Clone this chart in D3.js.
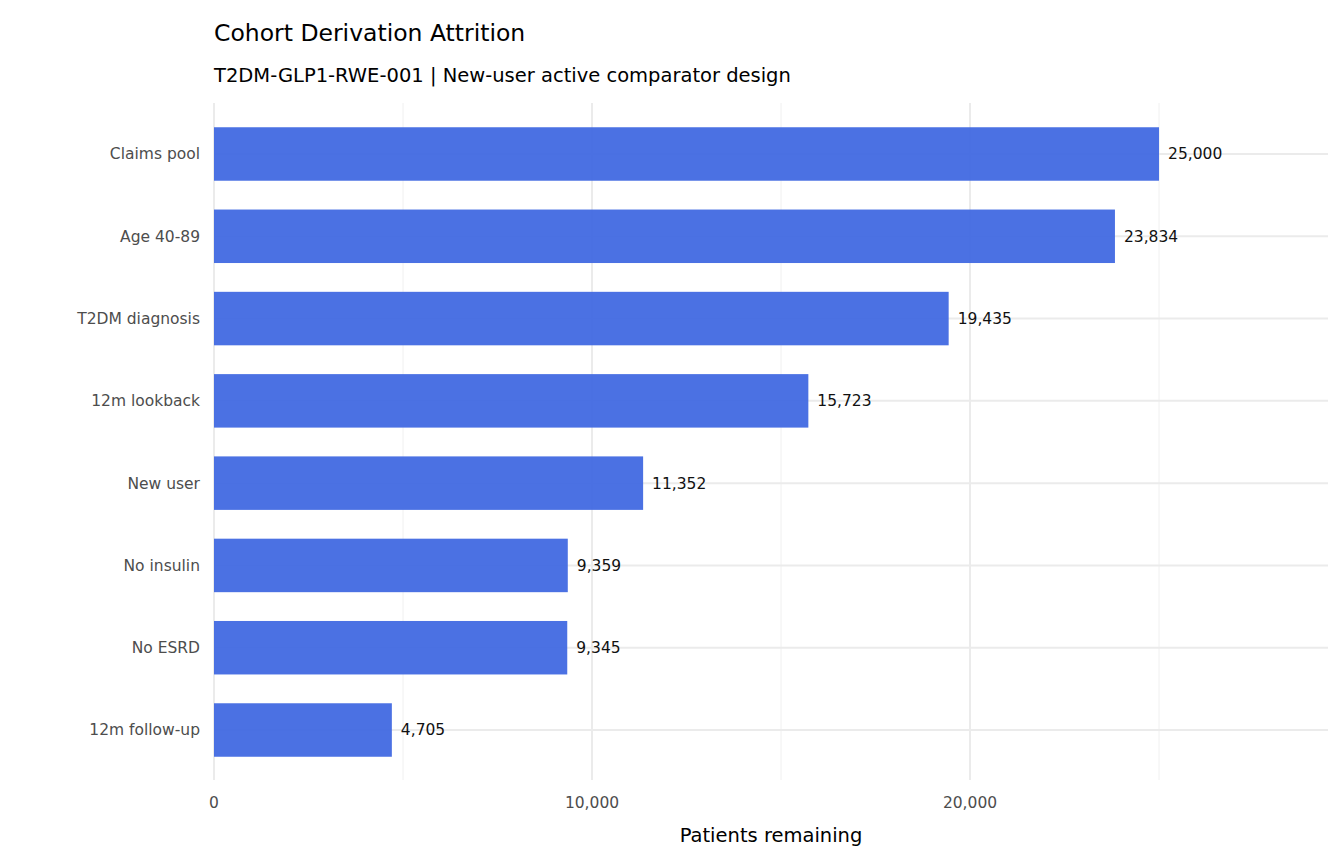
<!DOCTYPE html>
<html>
<head>
<meta charset="utf-8">
<script src="https://cdn.jsdelivr.net/npm/d3@7"></script>
<style>
body { margin: 0; background: #fff; }
text { font-family: "DejaVu Sans", sans-serif; }
</style>
</head>
<body>
<svg width="1344" height="864"></svg>
<script>
// Attrition steps, top to bottom
const steps = ["Claims pool", "Age 40-89", "T2DM diagnosis", "12m lookback", "New user", "No insulin", "No ESRD", "12m follow-up"]
const remaining = [25000, 23834, 19435, 15723, 11352, 9359, 9345, 4705]
const majorTicks = [0, 10000, 20000]
const minorTicks = [5000, 15000, 25000]

const svg = d3.select("svg")
const panelLeft = 214, panelRight = 1328, panelTop = 103, panelBottom = 780

const x = d3.scaleLinear().domain([0, 29470]).range([panelLeft, panelRight])
const y = d3.scaleBand().domain(steps).range([112.85, 771.15]).paddingInner(0.35).paddingOuter(0.175)

const fmt = d3.format(",")

// gridlines
svg.selectAll("line.minor").data(minorTicks).enter().append("line")
	.attr("x1", d => x(d)).attr("x2", d => x(d)).attr("y1", panelTop).attr("y2", panelBottom)
	.attr("stroke", "#f0f0f0").attr("stroke-width", 1)
svg.selectAll("line.major").data(majorTicks).enter().append("line")
	.attr("x1", d => x(d)).attr("x2", d => x(d)).attr("y1", panelTop).attr("y2", panelBottom)
	.attr("stroke", "#ebebeb").attr("stroke-width", 2)
svg.selectAll("line.hgrid").data(steps).enter().append("line")
	.attr("x1", panelLeft).attr("x2", panelRight)
	.attr("y1", d => y(d) + y.bandwidth() / 2).attr("y2", d => y(d) + y.bandwidth() / 2)
	.attr("stroke", "#ebebeb").attr("stroke-width", 2)

// bars
svg.selectAll("rect.bar").data(steps).enter().append("rect")
	.attr("x", x(0)).attr("y", d => y(d))
	.attr("width", (d, i) => x(remaining[i]) - x(0))
	.attr("height", y.bandwidth())
	.attr("fill", "#4169E1").attr("fill-opacity", 0.95)

// value labels
svg.selectAll("text.val").data(steps).enter().append("text")
	.attr("x", (d, i) => x(remaining[i]) + 9)
	.attr("y", d => y(d) + y.bandwidth() / 2)
	.attr("dy", "0.35em").attr("font-size", 15.5).attr("fill", "#111")
	.text((d, i) => fmt(remaining[i]))

// y labels
svg.selectAll("text.ylab").data(steps).enter().append("text")
	.attr("x", 200).attr("y", d => y(d) + y.bandwidth() / 2)
	.attr("dy", "0.35em").attr("text-anchor", "end")
	.attr("font-size", 15.5).attr("fill", "#4d4d4d")
	.text(d => d)

// x tick labels
svg.selectAll("text.xlab").data(majorTicks).enter().append("text")
	.attr("x", d => x(d)).attr("y", 808).attr("text-anchor", "middle")
	.attr("font-size", 15.5).attr("fill", "#4d4d4d")
	.text(d => fmt(d))

svg.append("text").attr("x", (panelLeft + panelRight) / 2).attr("y", 842).attr("text-anchor", "middle")
	.attr("font-size", 19.5).attr("fill", "#000").text("Patients remaining")

svg.append("text").attr("x", 214).attr("y", 41).attr("font-size", 23.5).attr("fill", "#000")
	.text("Cohort Derivation Attrition")
svg.append("text").attr("x", 214).attr("y", 82).attr("font-size", 19.5).attr("fill", "#000")
	.text("T2DM-GLP1-RWE-001 | New-user active comparator design")
</script>
</body>
</html>
